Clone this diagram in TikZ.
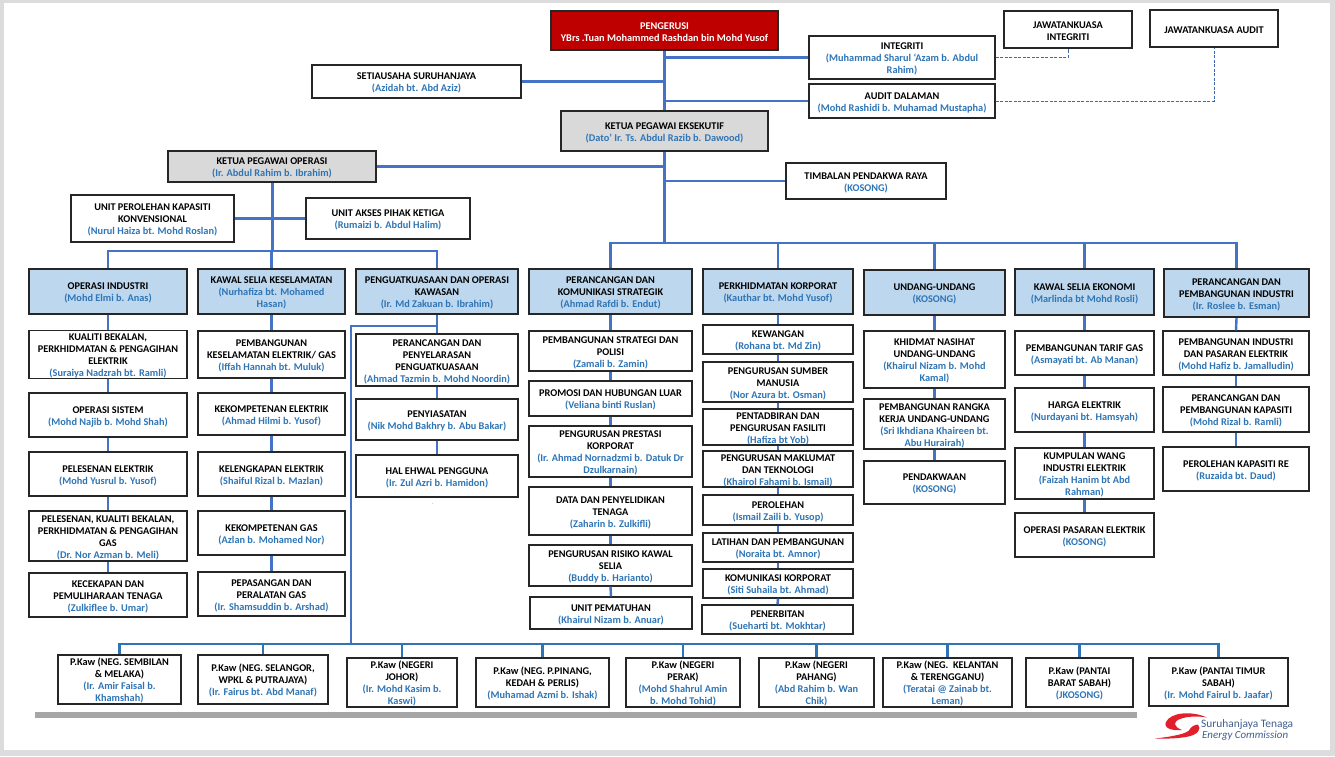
\documentclass[tikz,border=0pt]{standalone}
\usepackage{fontspec}
\setmainfont{Carlito}
\usetikzlibrary{calc}
\definecolor{pblue}{HTML}{2E75B6}
\definecolor{lineb}{HTML}{4472C4}
\definecolor{lineb2}{HTML}{2F75B5}
\definecolor{headb}{HTML}{BDD7EE}
\definecolor{greyb}{HTML}{D9D9D9}
\definecolor{pagegrey}{HTML}{DCDCDC}
\definecolor{dashb}{HTML}{3F68B0}
\definecolor{logored}{HTML}{E2202C}
\definecolor{logotext}{HTML}{3F5F8F}
\newcommand{\pn}[1]{\textcolor{pblue}{#1}}
\newcommand{\bx}[7]{%
 \pgfmathsetmacro\bxw{#5-#3}\pgfmathsetmacro\bxh{#6-#4}%
 \pgfmathsetmacro\bxx{(#3+#5)/2}\pgfmathsetmacro\bxy{(#4+#6)/2}%
 \node[#1,minimum width=\bxw pt,minimum height=\bxh pt] (#2) at (\bxx,\bxy) {\rule{0pt}{10pt}#7};}
\tikzset{
 x=1pt,y=-1pt,
 plain/.style={draw=black!85,line width=1.15pt,fill=white,inner sep=0pt,align=center,
   font=\fontsize{10.3}{12}\selectfont\bfseries,text=black},
 head/.style={plain,fill=headb,line width=2.4pt},
 greyhead/.style={plain,fill=greyb,line width=1.6pt},
 redhead/.style={plain,fill=red!75!black,text=white,line width=1.2pt},
 conn/.style={draw=lineb,line width=2.4pt},
 mainconn/.style={draw=lineb,line width=3pt},
 busconn/.style={draw=lineb2,line width=2.2pt},
 dashconn/.style={draw=dashb,line width=1pt,dash pattern=on 3pt off 1.5pt},
}
\begin{document}
\begin{tikzpicture}
\useasboundingbox (0,0) rectangle (1335,756);
\fill[pagegrey] (0,0) rectangle (1335,756);
\fill[white] (4,3) rectangle (1330,750);
% top level
\bx{redhead}{peng}{551}{11}{778}{50}{PENGERUSI\\YBrs .Tuan Mohammed Rashdan bin Mohd Yusof}
\bx{plain}{jint}{1004}{11}{1132}{48}{JAWATANKUASA\\INTEGRITI}
\bx{plain}{jaud}{1150}{10}{1278}{47}{JAWATANKUASA AUDIT}
\bx{plain}{integ}{809}{36}{995}{79}{INTEGRITI\\\pn{(Muhammad Sharul ‘Azam b. Abdul}\\\pn{Rahim)}}
\bx{plain}{audit}{809}{84}{995}{118}{AUDIT DALAMAN\\\pn{(Mohd Rashidi b. Muhamad Mustapha)}}
\bx{plain}{setia}{312}{65}{521}{98}{SETIAUSAHA SURUHANJAYA\\\pn{(Azidah bt. Abd Aziz)}}
\bx{greyhead}{kpe}{561}{111}{768}{151}{KETUA PEGAWAI EKSEKUTIF\\\pn{(Dato’ Ir. Ts. Abdul Razib b. Dawood)}}
\bx{greyhead}{kpo}{168}{151}{376}{182}{KETUA PEGAWAI OPERASI\\\pn{(Ir. Abdul Rahim b. Ibrahim)}}
\bx{plain}{timb}{786}{163}{946}{199}{TIMBALAN PENDAKWA RAYA\\\pn{(KOSONG)}}
\bx{plain}{upk}{71}{195}{234}{242}{UNIT PEROLEHAN KAPASITI\\KONVENSIONAL\\\pn{(Nurul Haiza bt. Mohd Roslan)}}
\bx{plain}{uaks}{306}{198}{470}{239}{UNIT AKSES PIHAK KETIGA\\\pn{(Rumaizi b. Abdul Halim)}}
% department heads
\bx{head}{oi}{29}{269}{187}{314}{OPERASI INDUSTRI\\\pn{(Mohd Elmi b. Anas)}}
\bx{head}{kk}{198}{269}{345}{314}{KAWAL SELIA KESELAMATAN\\\pn{(Nurhafiza bt. Mohamed}\\\pn{Hasan)}}
\bx{head}{pok}{356}{269}{518}{314}{PENGUATKUASAAN DAN OPERASI\\KAWASAN\\\pn{(Ir. Md Zakuan b. Ibrahim)}}
\bx{head}{pks}{529}{269}{692}{314}{PERANCANGAN DAN\\KOMUNIKASI STRATEGIK\\\pn{(Ahmad Rafdi b. Endut)}}
\bx{head}{pko}{703}{269}{853}{314}{PERKHIDMATAN KORPORAT\\\pn{(Kauthar bt. Mohd Yusof)}}
\bx{head}{uu}{864}{270}{1005}{315}{UNDANG-UNDANG\\\pn{(KOSONG)}}
\bx{head}{kse}{1015}{269}{1154}{315}{KAWAL SELIA EKONOMI\\\pn{(Marlinda bt Mohd Rosli)}}
\bx{head}{pbi}{1164}{269}{1309}{317}{PERANCANGAN DAN\\PEMBANGUNAN INDUSTRI\\\pn{(Ir. Roslee b. Esman)}}
% column 1
\bx{plain}{a1}{29}{331}{187}{378}{KUALITI BEKALAN,\\PERKHIDMATAN \& PENGAGIHAN\\ELEKTRIK\\\pn{(Suraiya Nadzrah bt. Ramli)}}
\bx{plain}{a2}{29}{393}{187}{437}{OPERASI SISTEM\\\pn{(Mohd Najib b. Mohd Shah)}}
\bx{plain}{a3}{29}{452}{187}{496}{PELESENAN ELEKTRIK\\\pn{(Mohd Yusrul b. Yusof)}}
\bx{plain}{a4}{29}{511}{187}{561}{PELESENAN, KUALITI BEKALAN,\\PERKHIDMATAN \& PENGAGIHAN\\GAS\\\pn{(Dr. Nor Azman b. Meli)}}
\bx{plain}{a5}{29}{573}{187}{617}{KECEKAPAN DAN\\PEMULIHARAAN TENAGA\\\pn{(Zulkiflee b. Umar)}}
% column 2
\bx{plain}{b1}{198}{331}{345}{378}{PEMBANGUNAN\\KESELAMATAN ELEKTRIK/ GAS\\\pn{(Iffah Hannah bt. Muluk)}}
\bx{plain}{b2}{198}{393}{345}{435}{KEKOMPETENAN ELEKTRIK\\\pn{(Ahmad Hilmi b. Yusof)}}
\bx{plain}{b3}{198}{452}{345}{496}{KELENGKAPAN ELEKTRIK\\\pn{(Shaiful Rizal b. Mazlan)}}
\bx{plain}{b4}{198}{511}{345}{555}{KEKOMPETENAN GAS\\\pn{(Azlan b. Mohamed Nor)}}
\bx{plain}{b5}{198}{572}{345}{616}{PEPASANGAN DAN\\PERALATAN GAS\\\pn{(Ir. Shamsuddin b. Arshad)}}
% column 3
\bx{plain}{c1}{356}{334}{518}{386}{PERANCANGAN DAN\\PENYELARASAN\\PENGUATKUASAAN\\\pn{(Ahmad Tazmin b. Mohd Noordin)}}
\bx{plain}{c2}{356}{399}{518}{440}{PENYIASATAN\\\pn{(Nik Mohd Bakhry b. Abu Bakar)}}
\bx{plain}{c3}{356}{455}{518}{497}{HAL EHWAL PENGGUNA\\\pn{(Ir. Zul Azri b. Hamidon)}}
\node[text=black!45,font=\fontsize{6}{6}\selectfont,inner sep=0pt] (dot) at (433,504) {.};
% column 4
\bx{plain}{d1}{529}{331}{692}{371}{PEMBANGUNAN STRATEGI DAN\\POLISI\\\pn{(Zamali b. Zamin)}}
\bx{plain}{d2}{529}{381}{692}{416}{PROMOSI DAN HUBUNGAN LUAR\\\pn{(Veliana binti Ruslan)}}
\bx{plain}{d3}{529}{426}{692}{477}{PENGURUSAN PRESTASI\\KORPORAT\\\pn{(Ir. Ahmad Nornadzmi b. Datuk Dr}\\\pn{Dzulkarnain)}}
\bx{plain}{d4}{529}{487}{692}{535}{DATA DAN PENYELIDIKAN\\TENAGA\\\pn{(Zaharin b. Zulkifli)}}
\bx{plain}{d5}{529}{545}{692}{586}{PENGURUSAN RISIKO KAWAL\\SELIA\\\pn{(Buddy b. Harianto)}}
\bx{plain}{d6}{530}{597}{692}{629}{UNIT PEMATUHAN\\\pn{(Khairul Nizam b. Anuar)}}
% column 5
\bx{plain}{e1}{703}{325}{853}{354}{KEWANGAN\\\pn{(Rohana bt. Md Zin)}}
\bx{plain}{e2}{703}{362}{853}{402}{PENGURUSAN SUMBER\\MANUSIA\\\pn{(Nor Azura bt. Osman)}}
\bx{plain}{e3}{703}{409}{853}{445}{PENTADBIRAN DAN\\PENGURUSAN FASILITI\\\pn{(Hafiza bt Yob)}}
\bx{plain}{e4}{703}{451}{853}{487}{PENGURUSAN MAKLUMAT\\DAN TEKNOLOGI\\\pn{(Khairol Fahami b. Ismail)}}
\bx{plain}{e5}{703}{495}{853}{525}{PEROLEHAN\\\pn{(Ismail Zaili b. Yusop)}}
\bx{plain}{e6}{703}{533}{853}{562}{LATIHAN DAN PEMBANGUNAN\\\pn{(Noraita bt. Amnor)}}
\bx{plain}{e7}{703}{569}{853}{598}{KOMUNIKASI KORPORAT\\\pn{(Siti Suhaila bt. Ahmad)}}
\bx{plain}{e8}{702}{605}{853}{634}{PENERBITAN\\\pn{(Sueharti bt. Mokhtar)}}
% column 6
\bx{plain}{f1}{864}{331}{1005}{388}{KHIDMAT NASIHAT\\UNDANG-UNDANG\\\pn{(Khairul Nizam b. Mohd}\\\pn{Kamal)}}
\bx{plain}{f2}{864}{399}{1005}{449}{PEMBANGUNAN RANGKA\\KERJA UNDANG-UNDANG\\\pn{(Sri Ikhdiana Khaireen bt.}\\\pn{Abu Hurairah)}}
\bx{plain}{f3}{864}{461}{1005}{504}{PENDAKWAAN\\\pn{(KOSONG)}}
% column 7
\bx{plain}{g1}{1015}{331}{1154}{375}{PEMBANGUNAN TARIF GAS\\\pn{(Asmayati bt. Ab Manan)}}
\bx{plain}{g2}{1015}{388}{1154}{432}{HARGA ELEKTRIK\\\pn{(Nurdayani bt. Hamsyah)}}
\bx{plain}{g3}{1015}{448}{1154}{499}{KUMPULAN WANG\\INDUSTRI ELEKTRIK\\\pn{(Faizah Hanim bt Abd}\\\pn{Rahman)}}
\bx{plain}{g4}{1015}{513}{1154}{557}{OPERASI PASARAN ELEKTRIK\\\pn{(KOSONG)}}
% column 8
\bx{plain}{h1}{1163}{331}{1309}{375}{PEMBANGUNAN INDUSTRI\\DAN PASARAN ELEKTRIK\\\pn{(Mohd Hafiz b. Jamalludin)}}
\bx{plain}{h2}{1163}{387}{1309}{432}{PERANCANGAN DAN\\PEMBANGUNAN KAPASITI\\\pn{(Mohd Rizal b. Ramli)}}
\bx{plain}{h3}{1163}{447}{1309}{491}{PEROLEHAN KAPASITI RE\\\pn{(Ruzaida bt. Daud)}}
% regional offices
\bx{plain}{k1}{58}{655}{181}{704}{P.Kaw (NEG. SEMBILAN\\\& MELAKA)\\\pn{(Ir. Amir Faisal b.}\\\pn{Khamshah)}}
\bx{plain}{k2}{198}{655}{328}{704}{P.Kaw (NEG. SELANGOR,\\WPKL \& PUTRAJAYA)\\\pn{(Ir. Fairus bt. Abd Manaf)}}
\bx{plain}{k3}{347}{658}{457}{707}{P.Kaw (NEGERI\\JOHOR)\\\pn{(Ir. Mohd Kasim b.}\\\pn{Kaswi)}}
\bx{plain}{k4}{476}{658}{609}{707}{P.Kaw (NEG. P.PINANG,\\KEDAH \& PERLIS)\\\pn{(Muhamad Azmi b. Ishak)}}
\bx{plain}{k5}{626}{658}{740}{707}{P.Kaw (NEGERI\\PERAK)\\\pn{(Mohd Shahrul Amin}\\\pn{b. Mohd Tohid)}}
\bx{plain}{k6}{759}{658}{874}{707}{P.Kaw (NEGERI\\PAHANG)\\\pn{(Abd Rahim b. Wan}\\\pn{Chik)}}
\bx{plain}{k7}{883}{658}{1012}{707}{P.Kaw (NEG.\ \ KELANTAN\\\& TERENGGANU)\\\pn{(Teratai @ Zainab bt.}\\\pn{Leman)}}
\bx{plain}{k8}{1026}{658}{1133}{707}{P.Kaw (PANTAI\\BARAT SABAH)\\\pn{(JKOSONG)}}
\bx{plain}{k9}{1149}{658}{1288}{706}{P.Kaw (PANTAI TIMUR\\SABAH)\\\pn{(Ir. Mohd Fairul b. Jaafar)}}
% junctions
\coordinate (busT) at (664.5,243);
\coordinate (busO) at (272,251);
\coordinate (jp) at (437,326);
\coordinate (botj) at (351,644);
% connectors: executive trunk
\draw[mainconn] (peng.south) -- (kpe.north);
\draw[mainconn] (kpe.south) -- (busT);
\draw[conn] (setia.east) -- (setia.east -| peng.south);
\draw[conn] (integ.west) -- (integ.west -| peng.south);
\draw[conn] (audit.west) -- (audit.west -| peng.south);
\draw[conn] (kpo.east) -- (kpo.east -| kpe.south);
\draw[conn] (timb.west) -- (timb.west -| kpe.south);
\foreach \n in {pks,pko,uu,kse,pbi}{\draw[conn] (busT) -| (\n.north);}
% connectors: operations
\draw[mainconn] (kpo.south) -- (busO);
\draw[conn] (upk.east) -- (uaks.west);
\foreach \n in {oi,kk,pok}{\draw[conn] (busO) -| (\n.north);}
% connectors: columns
\foreach \p/\q in {oi/a1,a1/a2,a2/a3,a3/a4,a4/a5,kk/b1,b1/b2,b2/b3,b3/b4,b4/b5,
  pok/c1,c1/c2,c2/c3,pks/d1,d1/d2,d2/d3,d3/d4,d4/d5,d5/d6,
  pko/e1,e1/e2,e2/e3,e3/e4,e4/e5,e5/e6,e6/e7,e7/e8,
  uu/f1,f1/f2,f2/f3,kse/g1,g1/g2,g2/g3,g3/g4,pbi/h1,h1/h2,h2/h3}{
  \draw[conn] (\p.south) -- (\q.north);}
% connectors: regional bus
\draw[conn] (jp) -| (botj);
\foreach \n in {k1,k2,k3,k4,k5,k6,k7,k8,k9}{\draw[busconn] (botj) -| (\n.north);}
% dashed links
\draw[dashconn] (integ.east) -| (jint.south);
\draw[dashconn] (audit.east) -| (jaud.south);
% footer bar
\fill[black!35] (35,712) rectangle (1137,718);
% logo
\fill[logored] (1207,717.5) .. controls (1190,710) and (1170,713) .. (1166,722)
  .. controls (1163,728) and (1172,731) .. (1182,730)
  .. controls (1174,727) and (1172,722) .. (1180,719)
  .. controls (1188,716) and (1198,716) .. (1207,717.5) -- cycle;
\fill[logored] (1155,738.5) .. controls (1172,736.5) and (1188,734) .. (1190,729)
  .. controls (1191,727) and (1194,725) .. (1198,724.5)
  .. controls (1202,729) and (1198,735) .. (1186,737)
  .. controls (1176,738.6) and (1165,738.8) .. (1155,738.5) -- cycle;
\node[text=logotext,font=\fontsize{11.4}{13}\selectfont,inner sep=0pt,anchor=west] (logoa) at (1201,725) {Suruhanjaya Tenaga};
\node[text=logotext,font=\fontsize{10.9}{13}\selectfont\itshape,inner sep=0pt,anchor=west] (logob) at (1202,736) {Energy Commission};
\end{tikzpicture}
\end{document}
